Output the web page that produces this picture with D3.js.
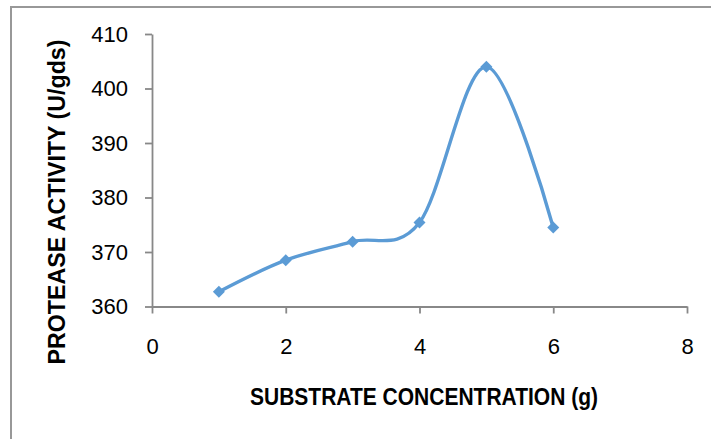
<!DOCTYPE html>
<html>
<head>
<meta charset="utf-8">
<script src="https://cdn.jsdelivr.net/npm/d3@7"></script>
<style>
  html, body { margin: 0; padding: 0; background: #fff; }
  svg { display: block; }
</style>
</head>
<body>
<svg id="chart" width="711" height="439"></svg>
<script>
// ---- data ----
const substrate = [1, 2, 3, 4, 5, 6];
const activity = [362.7, 368.5, 371.9, 375.4, 404.0, 374.5];
const xTicks = [0, 2, 4, 6, 8];
const yTicks = [360, 370, 380, 390, 400, 410];
const xTitle = "SUBSTRATE CONCENTRATION (g)";
const yTitle = "PROTEASE ACTIVITY (U/gds)";

const svg = d3.select("#chart");
const W = 711, H = 439;
const plot = { left: 152, right: 687, top: 34, bottom: 306.5 };

// outer chart border
svg.append("rect")
  .attr("x", 11).attr("y", 7)
  .attr("width", W).attr("height", H)
  .attr("fill", "#fff")
  .attr("stroke", "#989898").attr("stroke-width", 2);

const x = d3.scaleLinear().domain([0, 8]).range([plot.left, plot.right]);
const y = d3.scaleLinear().domain([360, 410]).range([plot.bottom, plot.top]);

const axisColor = "#888888";
const tickFont = "'Liberation Sans', Arial, sans-serif";

// y axis
const yAxis = svg.append("g")
  .attr("transform", `translate(${plot.left},0)`)
  .call(d3.axisLeft(y).tickValues(yTicks).tickSize(7).tickSizeOuter(0).tickPadding(17).tickFormat(d3.format("d")));
// x axis
const xAxis = svg.append("g")
  .attr("transform", `translate(0,${plot.bottom})`)
  .call(d3.axisBottom(x).tickValues(xTicks).tickSize(7).tickSizeOuter(0).tickPadding(25).tickFormat(d3.format("d")));

[yAxis, xAxis].forEach(g => {
  g.select(".domain").attr("stroke", axisColor).attr("stroke-width", 1.8);
  g.selectAll(".tick line").attr("stroke", axisColor).attr("stroke-width", 1.8);
  g.selectAll(".tick text")
    .attr("fill", "#000")
    .style("font-family", tickFont)
    .style("font-size", "22px");
});

// line
const line = d3.line()
  .x((d, i) => x(substrate[i]))
  .y(d => y(d))
  .curve(d3.curveCardinal.tension(0));

svg.append("path")
  .datum(activity)
  .attr("d", line)
  .attr("fill", "none")
  .attr("stroke", "#5B9BD5")
  .attr("stroke-width", 3.4)
  .attr("stroke-linejoin", "round")
  .attr("stroke-linecap", "round");

// diamond markers
svg.append("g").selectAll("path")
  .data(activity)
  .join("path")
  .attr("d", d3.symbol(d3.symbolSquare, 72))
  .attr("transform", (d, i) => `translate(${x(substrate[i])},${y(d)}) rotate(45)`)
  .attr("fill", "#5B9BD5");

// axis titles
const titleFont = "'Liberation Sans Narrow', 'Arial Narrow', 'Liberation Sans', Arial, sans-serif";
svg.append("text")
  .attr("x", 424).attr("y", 405)
  .attr("text-anchor", "middle")
  .attr("textLength", 348).attr("lengthAdjust", "spacingAndGlyphs")
  .style("font-family", titleFont)
  .style("font-weight", "bold")
  .style("font-size", "23px")
  .text(xTitle);

svg.append("text")
  .attr("transform", `translate(65,202) rotate(-90)`)
  .attr("text-anchor", "middle")
  .attr("textLength", 325).attr("lengthAdjust", "spacingAndGlyphs")
  .style("font-family", titleFont)
  .style("font-weight", "bold")
  .style("font-size", "23px")
  .text(yTitle);
</script>
</body>
</html>
